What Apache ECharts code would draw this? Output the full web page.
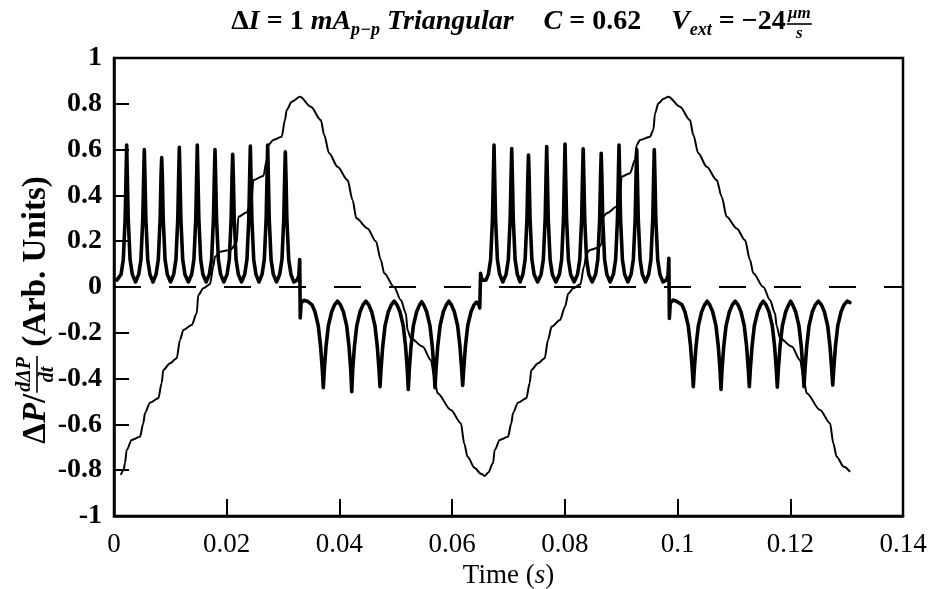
<!DOCTYPE html>
<html><head><meta charset="utf-8">
<script src="https://cdn.jsdelivr.net/npm/echarts@6/dist/echarts.min.js"></script>
<style>html,body{margin:0;padding:0;background:#fff}#chart{width:936px;height:589px}</style>
</head><body><div id="chart"></div>
<script>
// ---------- data ----------
const xTickLabels = ['0','0.02','0.04','0.06','0.08','0.1','0.12','0.14'];
const yTickLabels = ['-1','-0.8','-0.6','-0.4','-0.2','0','0.2','0.4','0.6','0.8','1'];

// thin curve: ΔP (time s, value)
const deltaPRise1 = [[0.0012,-0.82],[0.0017,-0.80],[0.00195,-0.77],[0.00225,-0.712],[0.00314,-0.668],[0.00461,-0.654],[0.0052,-0.595],[0.0055,-0.55],[0.00639,-0.505],[0.00786,-0.486],[0.00846,-0.42],[0.00875,-0.362],[0.00994,-0.333],[0.01112,-0.311],[0.01171,-0.231],[0.0123,-0.188],[0.01379,-0.166],[0.01467,-0.115],[0.01496,-0.035],[0.01585,-0.006],[0.01703,0.012],[0.01762,0.089],[0.01792,0.132],[0.01881,0.154],[0.02058,0.162],[0.02177,0.191],[0.02206,0.307],[0.02354,0.325],[0.02443,0.38],[0.02472,0.467],[0.0265,0.485],[0.0271,0.555],[0.02738,0.62],[0.02827,0.642],[0.02975,0.656],[0.03034,0.729],[0.03064,0.773],[0.03153,0.809],[0.033,0.831]];
const deltaPFall1 = [[0.03493,0.787],[0.0367,0.729],[0.03729,0.664],[0.03818,0.584],[0.03967,0.525],[0.04144,0.467],[0.04233,0.38],[0.043,0.3],[0.04499,0.256],[0.04646,0.2],[0.04735,0.118],[0.04794,0.06],[0.04971,0.0],[0.0509,-0.057],[0.05179,-0.115],[0.05208,-0.188],[0.05268,-0.224],[0.05475,-0.26],[0.05623,-0.319],[0.05682,-0.392],[0.05741,-0.464],[0.05978,-0.537],[0.06155,-0.595],[0.06214,-0.683],[0.06273,-0.741],[0.064,-0.79],[0.0651,-0.815],[0.0658,-0.825]];
const deltaPRise2 = [[0.0664,-0.81],[0.06725,-0.77],[0.06755,-0.712],[0.06844,-0.668],[0.06991,-0.654],[0.0705,-0.595],[0.0708,-0.55],[0.07169,-0.505],[0.07316,-0.486],[0.07376,-0.42],[0.07405,-0.362],[0.07524,-0.333],[0.07642,-0.311],[0.07701,-0.231],[0.07766,-0.173],[0.07914,-0.144],[0.08003,-0.086],[0.08062,-0.028],[0.0815,-0.006],[0.08275,0.012],[0.0834,0.09],[0.08388,0.147],[0.08446,0.162],[0.086,0.172],[0.08654,0.19],[0.08683,0.307],[0.08742,0.322],[0.08925,0.351],[0.08979,0.4],[0.09008,0.482],[0.09156,0.497],[0.09245,0.555],[0.09275,0.62],[0.09333,0.642],[0.0951,0.656],[0.0957,0.686],[0.096,0.758],[0.0966,0.802],[0.0975,0.822],[0.09836,0.831]];
const deltaPFall2 = [[0.10043,0.787],[0.1022,0.729],[0.10279,0.664],[0.10368,0.584],[0.10517,0.525],[0.10694,0.467],[0.10783,0.394],[0.10871,0.307],[0.11049,0.256],[0.11196,0.205],[0.11285,0.118],[0.11344,0.06],[0.11521,0.0],[0.1164,-0.057],[0.11729,-0.115],[0.11758,-0.17],[0.11818,-0.224],[0.12025,-0.26],[0.12173,-0.319],[0.12232,-0.392],[0.12291,-0.464],[0.12528,-0.537],[0.12705,-0.595],[0.12764,-0.683],[0.12823,-0.741],[0.1295,-0.785],[0.1306,-0.807]];

// thick curve: dΔP/dt (time s, value)
const dPdtPos1 = [[0.0005,0.03],
[0.00125,0.055],[0.00165,0.12],[0.00198,0.3],[0.00213,0.48],[0.00225,0.62],[0.00237,0.48],[0.00252,0.3],[0.00285,0.12],[0.00325,0.055],[0.00382,0.022],
[0.00438,0.055],[0.00478,0.12],[0.00511,0.3],[0.00526,0.48],[0.00538,0.60],[0.0055,0.48],[0.00565,0.3],[0.00598,0.12],[0.00638,0.055],[0.00692,0.022],
[0.00746,0.055],[0.00786,0.12],[0.00819,0.3],[0.00834,0.48],[0.00846,0.565],[0.00858,0.48],[0.00873,0.3],[0.00906,0.12],[0.00946,0.055],[0.01003,0.022],
[0.01059,0.055],[0.01099,0.12],[0.01132,0.3],[0.01147,0.48],[0.01159,0.61],[0.01171,0.48],[0.01186,0.3],[0.01219,0.12],[0.01259,0.055],[0.01319,0.022],
[0.01378,0.055],[0.01418,0.12],[0.01451,0.3],[0.01466,0.48],[0.01478,0.62],[0.0149,0.48],[0.01505,0.3],[0.01538,0.12],[0.01578,0.055],[0.01635,0.022],
[0.01692,0.055],[0.01732,0.12],[0.01765,0.3],[0.0178,0.48],[0.01792,0.60],[0.01804,0.48],[0.01819,0.3],[0.01852,0.12],[0.01892,0.055],[0.01949,0.022],
[0.02006,0.055],[0.02046,0.12],[0.02079,0.3],[0.02094,0.48],[0.02106,0.58],[0.02118,0.48],[0.02133,0.3],[0.02166,0.12],[0.02206,0.055],[0.02263,0.022],
[0.02319,0.055],[0.02359,0.12],[0.02392,0.3],[0.02407,0.48],[0.02419,0.615],[0.02431,0.48],[0.02446,0.3],[0.02479,0.12],[0.02519,0.055],[0.02573,0.022],
[0.02627,0.055],[0.02667,0.12],[0.027,0.3],[0.02715,0.48],[0.02727,0.62],[0.02739,0.48],[0.02754,0.3],[0.02787,0.12],[0.02827,0.055],[0.02884,0.022],
[0.0294,0.055],[0.0298,0.12],[0.03013,0.3],[0.03028,0.48],[0.0304,0.59],[0.03052,0.48],[0.03067,0.3],[0.031,0.12],[0.0314,0.055],
[0.0319,0.022],[0.0325,0.03],[0.0328,0.05],[0.03295,0.12]];
const dPdtNeg1 = [[0.03305,-0.135],[0.0332,-0.07],[0.0337,-0.058],[0.0343,-0.062],
[0.03514,-0.078],[0.03566,-0.108],[0.03625,-0.17],[0.03666,-0.26],[0.03696,-0.36],[0.03714,-0.44],[0.03732,-0.36],[0.03762,-0.26],[0.03803,-0.17],[0.03862,-0.108],[0.03914,-0.078],[0.03966,-0.062],
[0.04018,-0.078],[0.0407,-0.108],[0.04129,-0.17],[0.0417,-0.26],[0.042,-0.36],[0.04218,-0.457],[0.04236,-0.36],[0.04266,-0.26],[0.04307,-0.17],[0.04366,-0.108],[0.04418,-0.078],[0.04469,-0.062],
[0.0452,-0.078],[0.04572,-0.108],[0.04631,-0.17],[0.04672,-0.26],[0.04702,-0.36],[0.0472,-0.435],[0.04738,-0.36],[0.04768,-0.26],[0.04809,-0.17],[0.04868,-0.108],[0.0492,-0.078],[0.04971,-0.062],
[0.05022,-0.078],[0.05074,-0.108],[0.05133,-0.17],[0.05174,-0.26],[0.05204,-0.36],[0.05222,-0.447],[0.0524,-0.36],[0.0527,-0.26],[0.05311,-0.17],[0.0537,-0.108],[0.05422,-0.078],[0.05459,-0.064],
[0.05496,-0.078],[0.05548,-0.108],[0.05607,-0.17],[0.05648,-0.26],[0.05678,-0.36],[0.05696,-0.44],[0.05714,-0.36],[0.05744,-0.26],[0.05785,-0.17],[0.05844,-0.108],[0.05896,-0.078],[0.05942,-0.062],
[0.05987,-0.078],[0.06039,-0.108],[0.06098,-0.17],[0.06139,-0.26],[0.06169,-0.36],[0.06187,-0.43],[0.06205,-0.36],[0.06235,-0.26],[0.06276,-0.17],[0.06335,-0.108],[0.06387,-0.078],
[0.0643,-0.066],[0.0647,-0.075],[0.0649,-0.092]];
const dPdtPos2 = [[0.06505,0.06],[0.0653,0.03],[0.066,0.03],
[0.06643,0.055],[0.06683,0.12],[0.06716,0.3],[0.06731,0.48],[0.06743,0.62],[0.06755,0.48],[0.0677,0.3],[0.06803,0.12],[0.06843,0.055],[0.069,0.022],
[0.06957,0.055],[0.06997,0.12],[0.0703,0.3],[0.07045,0.48],[0.07057,0.605],[0.07069,0.48],[0.07084,0.3],[0.07117,0.12],[0.07157,0.055],[0.07206,0.022],
[0.07255,0.055],[0.07295,0.12],[0.07328,0.3],[0.07343,0.48],[0.07355,0.576],[0.07367,0.48],[0.07382,0.3],[0.07415,0.12],[0.07455,0.055],[0.07517,0.022],
[0.07578,0.055],[0.07618,0.12],[0.07651,0.3],[0.07666,0.48],[0.07678,0.613],[0.0769,0.48],[0.07705,0.3],[0.07738,0.12],[0.07778,0.055],[0.0784,0.022],
[0.07903,0.055],[0.07943,0.12],[0.07976,0.3],[0.07991,0.48],[0.08003,0.624],[0.08015,0.48],[0.0803,0.3],[0.08063,0.12],[0.08103,0.055],[0.08164,0.022],
[0.08225,0.055],[0.08265,0.12],[0.08298,0.3],[0.08313,0.48],[0.08325,0.603],[0.08337,0.48],[0.08352,0.3],[0.08385,0.12],[0.08425,0.055],[0.08485,0.022],
[0.08545,0.055],[0.08585,0.12],[0.08618,0.3],[0.08633,0.48],[0.08645,0.584],[0.08657,0.48],[0.08672,0.3],[0.08705,0.12],[0.08745,0.055],[0.08803,0.022],
[0.08861,0.055],[0.08901,0.12],[0.08934,0.3],[0.08949,0.48],[0.08961,0.62],[0.08973,0.48],[0.08988,0.3],[0.09021,0.12],[0.09061,0.055],[0.09118,0.022],
[0.09175,0.055],[0.09215,0.12],[0.09248,0.3],[0.09263,0.48],[0.09275,0.6],[0.09287,0.48],[0.09302,0.3],[0.09335,0.12],[0.09375,0.055],[0.09431,0.022],
[0.09487,0.055],[0.09527,0.12],[0.0956,0.3],[0.09575,0.48],[0.09587,0.6],[0.09599,0.48],[0.09614,0.3],[0.09647,0.12],[0.09687,0.055],
[0.0974,0.022],[0.098,0.03],[0.0983,0.05],[0.09845,0.125]];
const dPdtNeg2 = [[0.09855,-0.137],[0.0987,-0.07],[0.0992,-0.057],[0.0998,-0.062],
[0.10079,-0.078],[0.10131,-0.108],[0.1019,-0.17],[0.10231,-0.26],[0.10261,-0.36],[0.10279,-0.435],[0.10297,-0.36],[0.10327,-0.26],[0.10368,-0.17],[0.10427,-0.108],[0.10479,-0.078],[0.10525,-0.062],
[0.10571,-0.078],[0.10623,-0.108],[0.10682,-0.17],[0.10723,-0.26],[0.10753,-0.36],[0.10771,-0.447],[0.10789,-0.36],[0.10819,-0.26],[0.1086,-0.17],[0.10919,-0.108],[0.10971,-0.078],[0.11022,-0.062],
[0.11073,-0.078],[0.11125,-0.108],[0.11184,-0.17],[0.11225,-0.26],[0.11255,-0.36],[0.11273,-0.435],[0.11291,-0.36],[0.11321,-0.26],[0.11362,-0.17],[0.11421,-0.108],[0.11473,-0.078],[0.11522,-0.062],
[0.1157,-0.078],[0.11622,-0.108],[0.11681,-0.17],[0.11722,-0.26],[0.11752,-0.36],[0.1177,-0.437],[0.11788,-0.36],[0.11818,-0.26],[0.11859,-0.17],[0.11918,-0.108],[0.1197,-0.078],[0.12007,-0.062],
[0.12043,-0.078],[0.12095,-0.108],[0.12154,-0.17],[0.12195,-0.26],[0.12225,-0.36],[0.12243,-0.435],[0.12261,-0.36],[0.12291,-0.26],[0.12332,-0.17],[0.12391,-0.108],[0.12443,-0.078],[0.12498,-0.062],
[0.12553,-0.078],[0.12605,-0.108],[0.12664,-0.17],[0.12705,-0.26],[0.12735,-0.36],[0.12753,-0.428],[0.12771,-0.36],[0.12801,-0.26],[0.12842,-0.17],[0.12901,-0.108],[0.12953,-0.078],
[0.1301,-0.062],[0.1306,-0.068]];

// ---------- chart ----------
const FAM = '"Liberation Serif", "DejaVu Serif", serif';
const mctx = document.createElement('canvas').getContext('2d');
function measure(font, text) { mctx.font = font; return mctx.measureText(text).width; }
function fontOf(s) { return (s.italic ? 'italic ' : 'normal ') + (s.weight || 'bold') + ' ' + s.size + 'px ' + FAM; }

function buildRow(segs, cx, cy, rotation) {
  let total = 0;
  segs.forEach(s => {
    if (s.gap) { s.w = s.gap; }
    else if (s.frac) { s.font = fontOf(s); s.w = Math.max(measure(s.font, s.num), measure(s.font, s.den)) + 4; }
    else { s.font = fontOf(s); s.w = measure(s.font, s.t); }
    total += s.w;
  });
  let x = -total / 2;
  const children = [];
  segs.forEach(s => {
    if (s.frac) {
      children.push({type: 'text', x: x + s.w / 2, y: s.numDy, style: {text: s.num, font: s.font, fill: '#000', align: 'center', verticalAlign: 'middle', textAlign: 'center', textVerticalAlign: 'middle'}});
      children.push({type: 'text', x: x + s.w / 2, y: s.denDy, style: {text: s.den, font: s.font, fill: '#000', align: 'center', verticalAlign: 'middle', textAlign: 'center', textVerticalAlign: 'middle'}});
      children.push({type: 'line', shape: {x1: x + 1, y1: s.barDy, x2: x + s.w - 1, y2: s.barDy}, style: {stroke: '#000', lineWidth: 1.6}});
    } else if (!s.gap) {
      children.push({type: 'text', x: x, y: s.dy || 0, style: {text: s.t, font: s.font, fill: '#000', align: 'left', verticalAlign: 'middle', textAlign: 'left', textVerticalAlign: 'middle'}});
    }
    x += s.w;
  });
  return {type: 'group', x: cx, y: cy, rotation: rotation || 0, children: children};
}

const TS = 28, TSub = 18;
const titleSegs = [
  {t: 'Δ', size: TS}, {t: 'I', size: TS, italic: true}, {t: ' = 1 ', size: TS},
  {t: 'mA', size: TS, italic: true}, {t: 'p−p', size: TSub, italic: true, dy: 8},
  {t: ' Triangular', size: TS, italic: true}, {gap: 30},
  {t: 'C', size: TS, italic: true}, {t: ' = 0.62', size: TS}, {gap: 30},
  {t: 'V', size: TS, italic: true}, {t: 'ext', size: TSub, italic: true, dy: 8},
  {t: ' = −24', size: TS},
  {frac: true, num: 'µm', den: 's', size: 17, italic: true, numDy: -8, denDy: 12, barDy: 2}
];
const YS = 33;
const ylabSegs = [
  {t: 'Δ', size: YS}, {t: 'P', size: YS, italic: true}, {t: '/', size: YS},
  {frac: true, num: 'dΔP', den: 'dt', size: 20, italic: true, numDy: -11, denDy: 12, barDy: 1},
  {t: ' (Arb. Units)', size: YS}
];

const chart = echarts.init(document.getElementById('chart'), null, {renderer: 'canvas'});
chart.setOption({
  animation: false,
  backgroundColor: '#fff',
  grid: {left: 114, right: 33, top: 58, bottom: 73, containLabel: false, outerBoundsMode: 'none',
    show: true, borderColor: '#000', borderWidth: 2.5, backgroundColor: 'transparent'},
  xAxis: {
    type: 'value', min: 0, max: 0.14, interval: 0.02,
    axisLine: {show: true, onZero: false, lineStyle: {color: '#000', width: 2.5}},
    axisTick: {show: true, inside: true, length: 17, lineStyle: {color: '#000', width: 2}},
    splitLine: {show: false},
    axisLabel: {color: '#000', fontFamily: FAM, fontSize: 27, margin: 15,
      formatter: v => xTickLabels[Math.round(v / 0.02)]},
    name: '{a|Time (}{b|s}{a|)}', nameLocation: 'middle', nameGap: 41,
    nameTextStyle: {rich: {a: {fontFamily: FAM, fontSize: 27, color: '#000'}, b: {fontFamily: FAM, fontSize: 27, fontStyle: 'italic', color: '#000'}}}
  },
  yAxis: {
    type: 'value', min: -1, max: 1, interval: 0.2,
    axisLine: {show: true, onZero: false, lineStyle: {color: '#000', width: 2.5}},
    axisTick: {show: true, inside: true, length: 15, lineStyle: {color: '#000', width: 2}},
    splitLine: {show: false},
    axisLabel: {color: '#000', fontFamily: FAM, fontWeight: 'bold', fontSize: 28, margin: 12,
      formatter: v => yTickLabels[Math.round((v + 1) / 0.2)]}
  },
  series: [
    {
      type: 'line', name: 'dP/dt', showSymbol: false, symbol: 'none',
      data: dPdtPos1.concat(dPdtNeg1, dPdtPos2, dPdtNeg2),
      lineStyle: {color: '#000', width: 3.6, join: 'round', cap: 'round'},
      markLine: {silent: true, symbol: 'none', label: {show: false},
        lineStyle: {color: '#000', width: 2, type: [27, 28]},
        data: [{yAxis: 0}]}
    },
    {
      type: 'line', name: 'dP', showSymbol: false, symbol: 'none', smooth: 0.3, smoothMonotone: 'x',
      data: deltaPRise1.concat(deltaPFall1, deltaPRise2, deltaPFall2),
      lineStyle: {color: '#000', width: 2}
    }
  ],
  graphic: [
    buildRow(titleSegs, 522, 22, 0),
    buildRow(ylabSegs, 36, 310, Math.PI / 2)
  ]
});
</script>
</body></html>
